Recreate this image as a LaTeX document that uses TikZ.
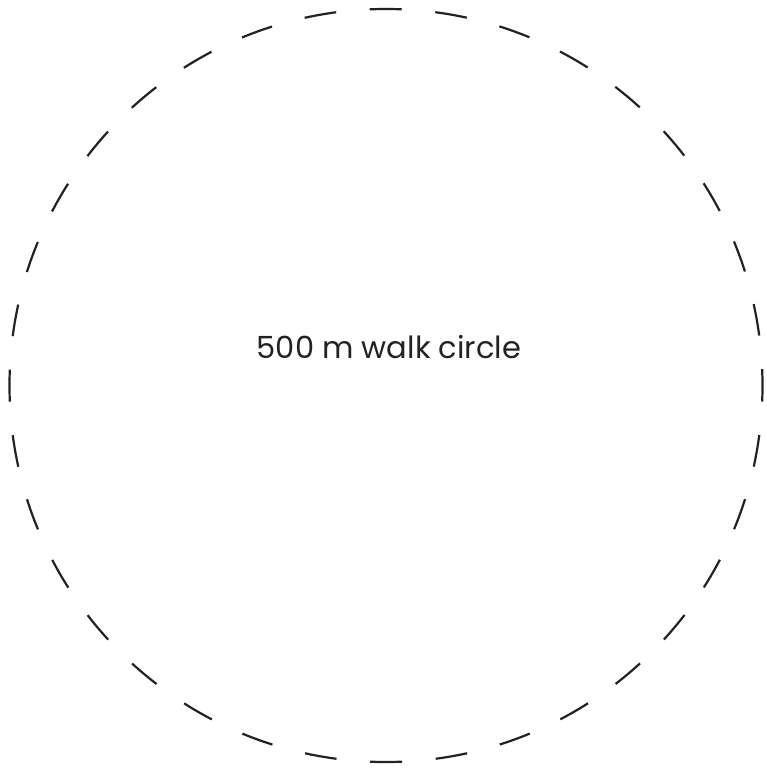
\documentclass[tikz,border=0pt]{standalone}
\usepackage{fontspec}
\setmainfont{Poppins}
\definecolor{ink}{HTML}{222222}
\begin{document}
\begin{tikzpicture}[x=1pt,y=-1pt,
  walkring/.style={draw=ink,line width=2.2pt,dash pattern=on 32pt off 33.71pt,dash phase=16pt},
  labeltext/.style={font=\fontsize{30.5}{36}\selectfont,text=ink,inner sep=0pt,anchor=base}]
\useasboundingbox (0,0) rectangle (767,772);
\coordinate (c) at (386,385.5);
\draw[walkring] (c) circle[radius=376.5];
\node[labeltext] (lbl) at (389,358) {500 m walk circle};
\end{tikzpicture}
\end{document}
